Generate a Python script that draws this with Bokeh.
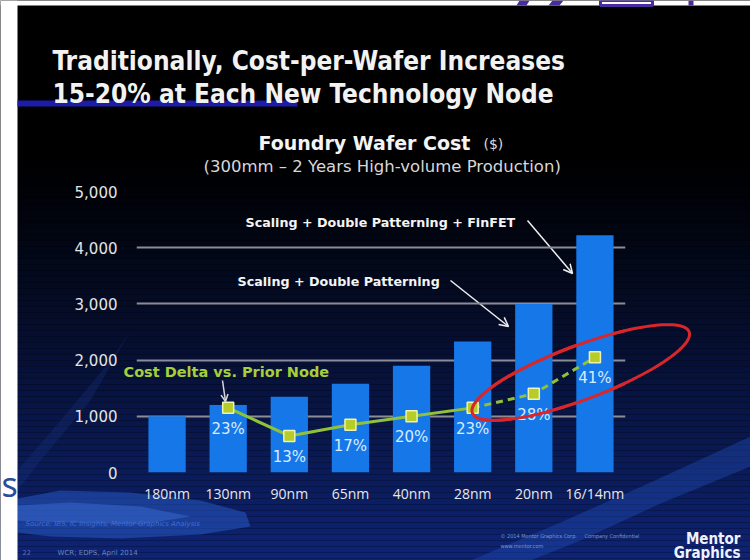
from bokeh.plotting import figure
from bokeh.models import (ColumnDataSource, FactorRange, Range1d, Label, Arrow, OpenHead,
                          NumeralTickFormatter, FixedTicker)
from bokeh.embed import file_html
from bokeh.resources import INLINE
from bokeh.core.properties import value
import numpy as np

# ---------------- data ----------------
nodes = ["180nm", "130nm", "90nm", "65nm", "40nm", "28nm", "20nm", "16/14nm"]
wafer_cost = [1000, 1200, 1350, 1580, 1900, 2330, 3000, 4220]
delta_nodes = ["130nm", "90nm", "65nm", "40nm", "28nm", "20nm", "16/14nm"]
delta_pct = [23, 13, 17, 20, 23, 28, 41]
delta_labels = ["23%", "13%", "17%", "20%", "23%", "28%", "41%"]
y_ticks = [0, 1000, 2000, 3000, 4000, 5000]

W, H = 750, 560
COND = "DejaVu Sans Condensed"

# =============== background slide layer (pixel space, y down) ===============
bg = figure(width=W, height=H, x_range=Range1d(0, W), y_range=Range1d(H, 0),
            x_axis_location=None, y_axis_location=None, toolbar_location=None,
            output_backend="svg", min_border=0, outline_line_color=None,
            background_fill_color="#000000", border_fill_color="#000000")
bg.xgrid.visible = False
bg.ygrid.visible = False

def band_color(y):
    t = max(0.0, (y - 150) / 410.0) ** 1.15
    return "#%02x%02x%02x" % (int(14 * t), int(36 * t), int(118 * t))

band_top = list(range(0, H, 6))
bg.quad(left=0, right=W, top=band_top, bottom=[y + 6 for y in band_top],
        fill_color=[band_color(y + 3) for y in band_top], line_color=None)

# swirls
bg.patch([17, 60, 130, 200, 245, 250, 200, 120, 50, 17], [498, 490, 492, 500, 512, 526, 534, 538, 536, 532],
         fill_color="#2d63d8", fill_alpha=0.45, line_color=None)
bg.patch([17, 70, 140, 190, 140, 60, 17], [505, 502, 506, 516, 524, 522, 520],
         fill_color="#4a80ee", fill_alpha=0.35, line_color=None)
bg.patch([470, 560, 650, 750, 750, 660, 580, 530], [560, 522, 482, 436, 466, 503, 540, 560],
         fill_color="#2456c8", fill_alpha=0.35, line_color=None)
bg.patch([17, 60, 110, 130, 90, 40, 17], [470, 420, 360, 330, 400, 460, 490],
         fill_color="#1a3a90", fill_alpha=0.25, line_color=None)

# page edges and title underline
bg.quad(left=0, right=17, top=0, bottom=H, fill_color="#ffffff", line_color=None)
bg.quad(left=0, right=W, top=0, bottom=5, fill_color="#ffffff", line_color=None)
bg.quad(left=17, right=297, top=100, bottom=106, fill_color="#1c1ca8", line_color=None)
# purple logo fragments at the top edge
bg.patch([519, 529, 526, 516], [0, 0, 5, 5], fill_color="#4b2c9e", line_color=None)
bg.patch([552, 563, 559, 548], [0, 0, 5, 5], fill_color="#4b2c9e", line_color=None)
bg.quad(left=600, right=652, top=0, bottom=5, fill_color=None, line_color="#4b2c9e", line_width=3)
bg.quad(left=688, right=693, top=0, bottom=5, fill_color="#4b2c9e", line_color=None)

def lab(text, x, y, size, color, font="DejaVu Sans", style="normal", align="left", baseline="middle"):
    bg.add_layout(Label(x=x, y=y, text=text, text_font=font, text_font_size=size,
                        text_font_style=style, text_color=color, text_align=align,
                        text_baseline=baseline))

lab("Traditionally, Cost-per-Wafer Increases", 52, 60, "26px", "#f2f2f2",
    font=COND, style="bold", baseline="alphabetic")
lab("15-20% at Each New Technology Node", 52, 93, "26px", "#f2f2f2",
    font=COND, style="bold", baseline="alphabetic")

lab("Foundry Wafer Cost", 258, 142, "19px", "#f4f4f4", style="bold")
lab("($)", 483, 143, "14px", "#dddddd")
lab("(300mm \u2013 2 Years High-volume Production)", 203, 166, "16.5px", "#d8d8d8")

lab("Scaling + Double Patterning + FinFET", 245, 222, "12.7px", "#f4f4f4", style="bold")
lab("Scaling + Double Patterning", 237, 281, "12.7px", "#f4f4f4", style="bold")
lab("Cost Delta vs. Prior Node", 123, 371, "14.5px", "#a6cf3a", style="bold")

for xs, ys, xe, ye, c, hs in [(527, 220, 572, 273, "#f0f0f0", 9),
                               (450, 280, 508, 326, "#f0f0f0", 9),
                               (222, 380, 225, 401, "#d8d8d8", 7)]:
    bg.add_layout(Arrow(x_start=xs, y_start=ys, x_end=xe, y_end=ye, line_color=c, line_width=1.5,
                        end=OpenHead(size=hs, line_color=c, line_width=1.5)))

# red ellipse (full outline on the background layer)
t = np.linspace(0, 2 * np.pi, 120)
ecx, ecy, ea, eb, eang = 580, 372, 116, 27, np.deg2rad(-20.5)
ex = ecx + ea * np.cos(t) * np.cos(eang) - eb * np.sin(t) * np.sin(eang)
ey = ecy + ea * np.cos(t) * np.sin(eang) + eb * np.sin(t) * np.cos(eang)
bg.patch(list(ex), list(ey), fill_alpha=0, line_color="#d8262a", line_width=3)

lab("s", 1, 483, "34px", "#2a4d9e", font="Noto Sans", align="left", baseline="alphabetic")
lab("Source: IBS, IC Insights, Mentor Graphics Analysis", 25, 523, "7px", "#3f6fd0", style="italic")
lab("22", 22, 552, "6.5px", "#5a78b8")
lab("WCR; EDPS, April 2014", 57, 552, "7px", "#6a86c0")
lab("\u00a9 2014 Mentor Graphics Corp.", 500, 535, "5.5px", "#7f95c8", font=COND)
lab("Company Confidential", 584, 535, "5.5px", "#7f95c8", font=COND)
lab("www.mentor.com", 500, 545, "5.5px", "#7f95c8", font=COND)
lab("Mentor", 740, 538, "15px", "#eef2ff", font=COND, style="bold",
    align="right", baseline="alphabetic")
lab("Graphics", 740, 552, "15px", "#eef2ff", font=COND, style="bold",
    align="right", baseline="alphabetic")

# =============== chart layer (transparent, overlaid) ===============
p = figure(width=W, height=H, x_range=FactorRange(*nodes), y_range=Range1d(0, 5000),
           output_backend="svg", toolbar_location=None,
           min_border_left=136, min_border_right=125, min_border_top=191, min_border_bottom=88,
           background_fill_color=None, border_fill_color=None, outline_line_color=None)
p.extra_y_ranges = {"pct": Range1d(0, 100)}
p.styles = {"position": "absolute", "left": "0px", "top": "0px"}

ticker = FixedTicker(ticks=y_ticks)
p.yaxis.ticker = ticker
p.yaxis.formatter = NumeralTickFormatter(format="0,0")
p.yaxis.axis_line_color = None
p.yaxis.major_tick_line_color = None
p.yaxis.minor_tick_line_color = None
p.yaxis.major_tick_out = 0
p.yaxis.minor_tick_out = 0
p.yaxis.major_label_text_font = "DejaVu Sans"
p.yaxis.major_label_text_font_size = "15px"
p.yaxis.major_label_text_color = "#e4e4e4"
p.yaxis.major_label_standoff = 19

p.xaxis.axis_line_color = None
p.xaxis.major_tick_line_color = None
p.xaxis.minor_tick_line_color = None
p.xaxis.major_tick_out = 0
p.xaxis.minor_tick_out = 0
p.xaxis.major_label_text_font = "Open Sans"
p.xaxis.major_label_text_font_size = "14px"
p.xaxis.major_label_text_color = "#e8e8e8"
p.xaxis.major_label_standoff = 11

p.xgrid.grid_line_color = None
p.ygrid.ticker = ticker
p.ygrid.grid_line_color = "#8c8c96"
p.ygrid.grid_line_width = 2

bar_src = ColumnDataSource(dict(node=nodes, cost=wafer_cost))
p.vbar(x="node", top="cost", width=0.61, source=bar_src, fill_color="#1677e8", line_color=None)

p.line(x=delta_nodes[:5], y=delta_pct[:5], y_range_name="pct", line_color="#8fc23a", line_width=3)
p.line(x=delta_nodes[4:], y=delta_pct[4:], y_range_name="pct", line_color="#8fc23a", line_width=3,
       line_dash="7 5")
p.scatter(x=delta_nodes, y=delta_pct, y_range_name="pct", marker="square", size=11,
          fill_color="#b7cc28", line_color="#eef3b0", line_width=1.5)
p.text(x=delta_nodes, y=delta_pct, text=delta_labels, y_range_name="pct", y_offset=21,
       text_align="center", text_baseline="middle", text_font=value("DejaVu Sans"),
       text_font_size="15px", text_color="#d9ecff")

# red ellipse drawn again above the bars (same pixel geometry, in chart units)
p.ellipse(x=[7.272], y=[1779], width=232, height=54, angle=np.deg2rad(20.5),
          width_units="screen", height_units="screen", fill_alpha=0,
          line_color="#d8262a", line_width=3)

open("out.html", "w").write(file_html([bg, p], INLINE))
